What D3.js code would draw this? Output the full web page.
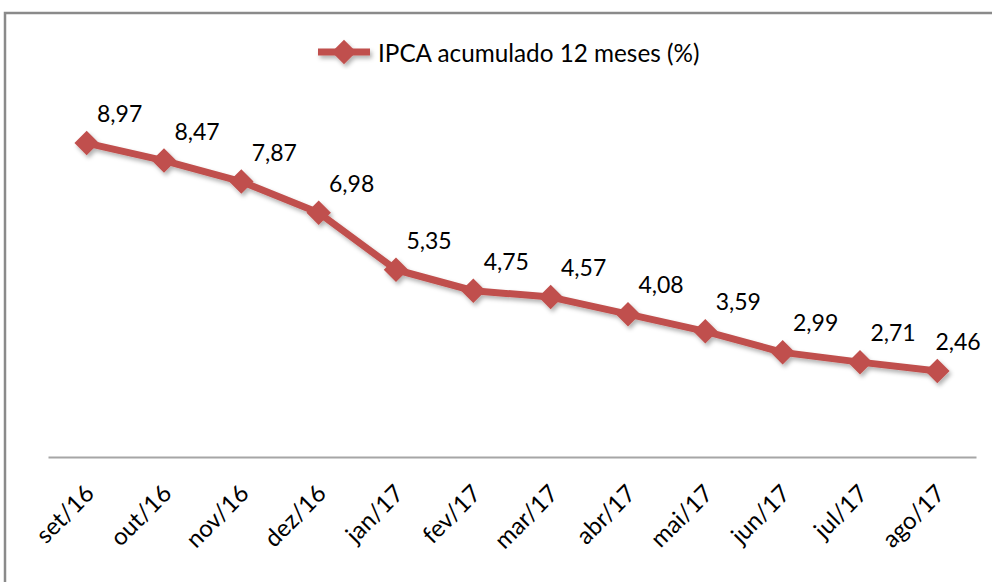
<!DOCTYPE html>
<html><head><meta charset="utf-8">
<script src="https://cdn.jsdelivr.net/npm/d3@7"></script>
<style>html,body{margin:0;padding:0;background:#fff;}svg{display:block;}</style>
</head><body>
<svg id="chart" width="992" height="582"></svg>
<script>
const categories = ["set/16","out/16","nov/16","dez/16","jan/17","fev/17","mar/17","abr/17","mai/17","jun/17","jul/17","ago/17"];
const values = [8.97,8.47,7.87,6.98,5.35,4.75,4.57,4.08,3.59,2.99,2.71,2.46];
const seriesName = "IPCA acumulado 12 meses (%)";

const W = 992, H = 582;
const color = "#c0504d";
const font = "Lato, 'Open Sans', sans-serif";
const svg = d3.select("#chart");

const defs = svg.append("defs");
const f = defs.append("filter").attr("id","shadow").attr("x","-20%").attr("y","-20%").attr("width","140%").attr("height","140%");
f.append("feDropShadow").attr("dx",2).attr("dy",3).attr("stdDeviation",2).attr("flood-color","#000").attr("flood-opacity",0.3);

// chart border
svg.append("rect").attr("x",5).attr("y",13).attr("width",W+10).attr("height",H+10)
  .attr("fill","#fff").attr("stroke","#8a8a8a").attr("stroke-width",2.5);

const x = d3.scaleBand().domain(categories).range([48,976]);
const y = d3.scaleLinear().domain([0,10]).range([457,107]);
const cx = d => x(d) + x.bandwidth()/2;

// axis
const xAxis = svg.append("g").attr("transform","translate(0,457)")
  .call(d3.axisBottom(x).tickSize(0).tickPadding(0));
xAxis.select(".domain").attr("stroke","#a6a6a6").attr("stroke-width",2);
xAxis.selectAll(".tick text")
  .attr("font-family",font).attr("font-size",24).attr("fill","#000")
  .attr("text-anchor","end").attr("dy",null)
  .attr("transform","translate(9,38) rotate(-45)");

const data = categories.map((c,i)=>({c, v: values[i]}));

const g = svg.append("g").attr("filter","url(#shadow)");
g.append("path").datum(data)
  .attr("d", d3.line().x(d=>cx(d.c)).y(d=>y(d.v)))
  .attr("fill","none").attr("stroke",color).attr("stroke-width",7).attr("stroke-linejoin","round");

const sym = d3.symbol(d3.symbolSquare, 300);
g.selectAll(".mk").data(data).join("path")
  .attr("d", sym)
  .attr("transform", d=>`translate(${cx(d.c)},${y(d.v)}) rotate(45)`)
  .attr("fill",color);

// data labels (kept inside the chart's right edge)
const fmt = v => d3.format(".2f")(v).replace(".",",");
svg.selectAll(".lbl").data(data).join("text")
  .attr("x", d=>Math.min(cx(d.c)+33, 958)).attr("y", d=>y(d.v)-21)
  .attr("text-anchor","middle").attr("font-family",font).attr("font-size",23).attr("fill","#000")
  .text(d=>fmt(d.v));

// legend
const lg = svg.append("g").attr("transform","translate(0,52)");
const lgm = lg.append("g").attr("filter","url(#shadow)");
lgm.append("line").attr("x1",318).attr("x2",370).attr("y1",0).attr("y2",0).attr("stroke",color).attr("stroke-width",7);
lgm.append("path").attr("d",sym).attr("transform","translate(344,0) rotate(45)").attr("fill",color);
lg.append("text").attr("x",378).attr("y",10).attr("font-family",font).attr("font-size",24.3).attr("fill","#000").text(seriesName);
</script>
</body></html>
